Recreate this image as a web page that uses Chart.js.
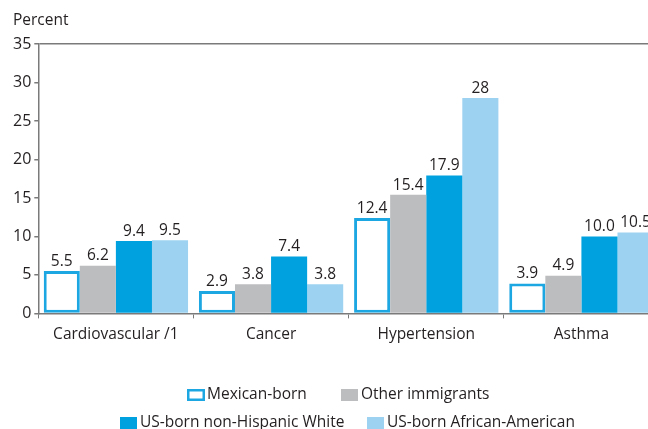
<!DOCTYPE html>
<html lang="en">
<head>
  <meta charset="UTF-8">
  <title>Health conditions by origin</title>
  <script src="https://cdn.jsdelivr.net/npm/chart.js"></script>
  <style>
    body {
      margin: 0;
      padding: 0;
      overflow: hidden;
      background: #fff;
    }
    .chart-container {
      position: relative;
      width: 680px;
      height: 429px;
    }
  </style>
</head>
<body>
  <div class="chart-container">
    <canvas id="healthChart"></canvas>
  </div>

  <script>
    const categories = ['Cardiovascular /1', 'Cancer', 'Hypertension', 'Asthma'];
    const seriesNames = ['Mexican-born', 'Other immigrants', 'US-born non-Hispanic White', 'US-born African-American'];
    // values as printed above the bars
    const mexicanBorn = ['5.5', '2.9', '12.4', '3.9'];
    const otherImmigrants = ['6.2', '3.8', '15.4', '4.9'];
    const usBornWhite = ['9.4', '7.4', '17.9', '10.0'];
    const usBornAfricanAmerican = ['9.5', '3.8', '28', '10.5'];
    const yTicks = [0, 5, 10, 15, 20, 25, 30, 35];

    const FONT = '"Open Sans", "Noto Sans", sans-serif';
    const TEXT = '#231f20';
    const AXIS = '#7a7a7a';

    const styles = [
      { backgroundColor: '#ffffff', borderColor: '#1ca6e2', borderWidth: 3 },
      { backgroundColor: '#bcbdbf', borderColor: '#bcbdbf', borderWidth: 0 },
      { backgroundColor: '#00a1df', borderColor: '#00a1df', borderWidth: 0 },
      { backgroundColor: '#9dd2f0', borderColor: '#9dd2f0', borderWidth: 0 }
    ];
    const series = [mexicanBorn, otherImmigrants, usBornWhite, usBornAfricanAmerican];

    // numbers above each bar
    const valueLabels = {
      id: 'valueLabels',
      afterDatasetsDraw(chart) {
        const ctx = chart.ctx;
        ctx.save();
        ctx.font = '15.5px ' + FONT;
        ctx.fillStyle = TEXT;
        ctx.textAlign = 'center';
        ctx.textBaseline = 'bottom';
        chart.data.datasets.forEach((ds, i) => {
          chart.getDatasetMeta(i).data.forEach((bar, j) => {
            ctx.fillText(ds.labelsText[j], bar.x, bar.y - 2);
          });
        });
        ctx.restore();
      }
    };

    // axis caption and two-row legend
    const extras = {
      id: 'extras',
      afterDraw(chart) {
        const ctx = chart.ctx;
        ctx.save();
        ctx.font = '15.5px ' + FONT;
        ctx.fillStyle = TEXT;
        ctx.textBaseline = 'middle';
        ctx.textAlign = 'left';
        ctx.fillText('Percent', 13, 21);

        const items = [
          { x: 187, y: 395 },
          { x: 341, y: 395 },
          { x: 120, y: 423 },
          { x: 367, y: 423 }
        ];
        chart.data.datasets.forEach((ds, i) => {
          const p = items[i];
          if (ds.borderWidth) {
            ctx.fillStyle = ds.borderColor;
            ctx.fillRect(p.x, p.y - 6, 18, 12);
            ctx.fillStyle = ds.backgroundColor;
            ctx.fillRect(p.x + 2.5, p.y - 3.5, 13, 7);
          } else {
            ctx.fillStyle = ds.backgroundColor;
            ctx.fillRect(p.x, p.y - 6, 17, 12);
          }
          ctx.fillStyle = TEXT;
          ctx.fillText(ds.label, p.x + 20, p.y);
        });
        ctx.restore();
      }
    };

    new Chart(document.getElementById('healthChart'), {
      type: 'bar',
      data: {
        labels: categories,
        datasets: series.map((vals, i) => Object.assign({
          label: seriesNames[i],
          data: vals.map(parseFloat),
          labelsText: vals,
          borderSkipped: false,
          categoryPercentage: 0.93,
          barPercentage: 1
        }, styles[i]))
      },
      options: {
        responsive: true,
        maintainAspectRatio: false,
        animation: false,
        layout: {
          padding: { top: 44, right: 21, bottom: 78, left: 10 }
        },
        plugins: {
          legend: { display: false },
          tooltip: { enabled: false }
        },
        scales: {
          x: {
            grid: {
              offset: true,
              drawOnChartArea: false,
              tickLength: 5,
              color: AXIS
            },
            border: { color: AXIS, width: 1.5 },
            ticks: {
              color: TEXT,
              font: { family: FONT, size: 15.5 },
              padding: 7
            }
          },
          y: {
            min: 0,
            max: 35,
            afterBuildTicks(axis) {
              axis.ticks = yTicks.map(v => ({ value: v }));
            },
            grid: {
              color: c => (c.tick && c.tick.value === 35) ? AXIS : 'rgba(0,0,0,0)',
              tickColor: AXIS,
              tickLength: 4,
              lineWidth: 1.5
            },
            border: { color: AXIS, width: 1.5 },
            ticks: {
              color: TEXT,
              font: { family: FONT, size: 16 },
              padding: 3
            }
          }
        }
      },
      plugins: [valueLabels, extras]
    });
  </script>
</body>
</html>
